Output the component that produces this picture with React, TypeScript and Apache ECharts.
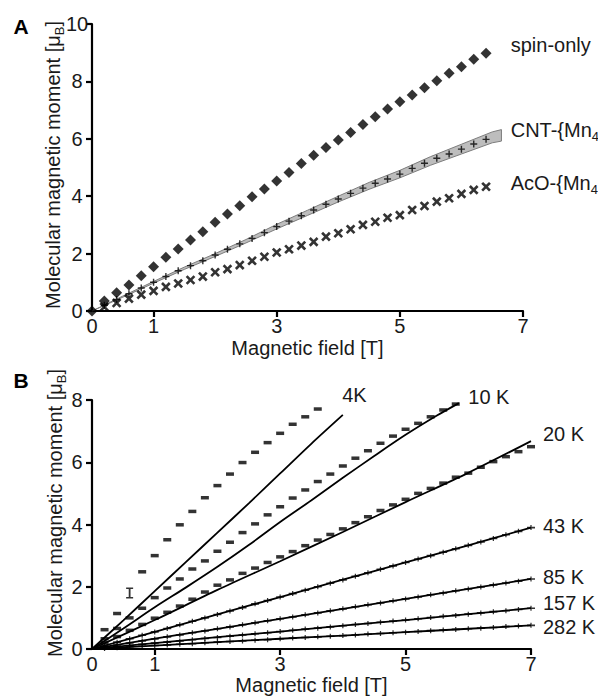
import React, { useEffect, useRef } from "react";
import * as echarts from "echarts";

const FONT = '"Liberation Sans", Arial, Helvetica, sans-serif';
const INK = "#1a1a1a";

// ---------- Panel A ----------
const FIELD_A = [0, 0.2, 0.4, 0.6, 0.8, 1.0, 1.2, 1.4, 1.6, 1.8, 2.0, 2.2, 2.4, 2.6, 2.8, 3.0, 3.2, 3.4, 3.6, 3.8, 4.0, 4.2, 4.4, 4.6, 4.8, 5.0, 5.2, 5.4, 5.6, 5.8, 6.0, 6.2, 6.4];
const SPIN_ONLY = [0, 0.35, 0.64, 0.91, 1.23, 1.54, 1.87, 2.16, 2.47, 2.76, 3.09, 3.38, 3.67, 3.98, 4.25, 4.53, 4.83, 5.14, 5.43, 5.7, 5.96, 6.22, 6.5, 6.77, 7.04, 7.29, 7.53, 7.78, 8.02, 8.28, 8.51, 8.77, 8.98];
// CNT and AcO start at 0.2 T
const CNT = [0.2, 0.4, 0.6, 0.8, 1.0, 1.2, 1.4, 1.58, 1.75, 1.95, 2.15, 2.34, 2.53, 2.73, 2.94, 3.13, 3.32, 3.52, 3.72, 3.9, 4.1, 4.28, 4.45, 4.6, 4.77, 4.97, 5.15, 5.32, 5.47, 5.64, 5.82, 5.98];
const ACO = [0.14, 0.28, 0.43, 0.57, 0.7, 0.84, 0.96, 1.08, 1.2, 1.35, 1.46, 1.6, 1.75, 1.89, 2.04, 2.15, 2.28, 2.41, 2.59, 2.71, 2.85, 3.0, 3.11, 3.25, 3.34, 3.52, 3.66, 3.81, 3.93, 4.08, 4.22, 4.33];
const BAND_FIELD = [0, 0.5, 1, 1.5, 2, 2.5, 3, 3.5, 4, 4.5, 5, 5.5, 6, 6.5, 6.65];
const BAND_LOW = [0, 0.48, 0.97, 1.45, 1.9, 2.37, 2.86, 3.33, 3.8, 4.24, 4.64, 5.08, 5.47, 5.86, 5.92];
const BAND_HIGH = [0, 0.52, 1.03, 1.53, 2.0, 2.49, 3.02, 3.51, 4.0, 4.48, 4.9, 5.38, 5.81, 6.24, 6.32];

// ---------- Panel B ----------
const FIELD_B = [0.2, 0.4, 0.6, 0.8, 1.0, 1.2, 1.4, 1.6, 1.8, 2.0, 2.2, 2.4, 2.6, 2.8, 3.0, 3.2, 3.4, 3.6, 3.8, 4.0, 4.2, 4.4, 4.6, 4.8, 5.0, 5.2, 5.4, 5.6, 5.8, 6.0, 6.2, 6.4, 6.6, 6.8, 7.0];
const DATA_4K = [0.62, 1.14, 1.8, 2.48, 3.0, 3.51, 3.99, 4.42, 4.86, 5.25, 5.62, 5.99, 6.32, 6.63, 6.93, 7.22, 7.46, 7.71];
const DATA_10K = [0.33, 0.66, 1.0, 1.31, 1.65, 1.96, 2.25, 2.57, 2.83, 3.14, 3.43, 3.74, 4.02, 4.31, 4.57, 4.85, 5.11, 5.38, 5.62, 5.88, 6.13, 6.37, 6.61, 6.84, 7.06, 7.25, 7.46, 7.68, 7.87];
const DATA_20K = [0.2, 0.4, 0.6, 0.79, 0.99, 1.18, 1.38, 1.6, 1.83, 2.05, 2.22, 2.43, 2.6, 2.78, 2.96, 3.13, 3.32, 3.5, 3.68, 3.86, 4.06, 4.25, 4.45, 4.63, 4.81, 5.0, 5.16, 5.33, 5.52, 5.65, 5.84, 6.02, 6.18, 6.34, 6.5];
const DATA_43K = [0.11, 0.22, 0.33, 0.44, 0.55, 0.66, 0.78, 0.89, 1.0, 1.11, 1.22, 1.33, 1.45, 1.56, 1.67, 1.78, 1.89, 2.0, 2.11, 2.22, 2.34, 2.45, 2.56, 2.67, 2.78, 2.89, 3.0, 3.11, 3.22, 3.33, 3.44, 3.55, 3.67, 3.78, 3.9];
const DATA_85K = [0.06, 0.13, 0.19, 0.26, 0.32, 0.39, 0.45, 0.52, 0.58, 0.65, 0.71, 0.78, 0.84, 0.91, 0.97, 1.03, 1.1, 1.16, 1.23, 1.29, 1.36, 1.42, 1.48, 1.55, 1.61, 1.67, 1.74, 1.8, 1.87, 1.93, 1.99, 2.06, 2.12, 2.18, 2.25];
const DATA_157K = [0.04, 0.07, 0.11, 0.15, 0.19, 0.22, 0.26, 0.3, 0.34, 0.37, 0.41, 0.45, 0.49, 0.52, 0.56, 0.6, 0.64, 0.67, 0.71, 0.75, 0.79, 0.82, 0.86, 0.9, 0.93, 0.97, 1.01, 1.05, 1.08, 1.12, 1.16, 1.2, 1.23, 1.27, 1.31];
const DATA_282K = [0.02, 0.04, 0.07, 0.09, 0.11, 0.13, 0.15, 0.17, 0.2, 0.22, 0.24, 0.26, 0.28, 0.3, 0.33, 0.35, 0.37, 0.39, 0.41, 0.43, 0.45, 0.48, 0.5, 0.52, 0.54, 0.56, 0.59, 0.61, 0.63, 0.65, 0.67, 0.69, 0.72, 0.74, 0.76];

const FIT_4K_FIELD = [0, 0.5, 1, 1.5, 2, 2.5, 3, 3.5, 4.0];
const FIT_4K = [0, 0.92, 1.86, 2.8, 3.74, 4.68, 5.64, 6.6, 7.52];
const FIT_10K_FIELD = [0, 0.5, 1, 1.5, 2, 2.5, 3, 3.5, 4, 4.5, 5, 5.5, 5.85];
const FIT_10K = [0, 0.66, 1.34, 1.98, 2.64, 3.34, 4.08, 4.78, 5.5, 6.2, 6.88, 7.5, 7.9];
const FIT_FIELD = [0, 1, 2, 3, 4, 5, 6, 7];
const FIT_20K = [0, 0.93, 1.9, 2.82, 3.76, 4.72, 5.66, 6.68];
const FIT_43K = [0, 0.55, 1.11, 1.67, 2.23, 2.78, 3.33, 3.9];
const FIT_85K = [0, 0.33, 0.65, 0.97, 1.29, 1.61, 1.93, 2.25];
const FIT_157K = [0, 0.19, 0.38, 0.56, 0.75, 0.93, 1.12, 1.31];
const FIT_282K = [0, 0.11, 0.22, 0.33, 0.43, 0.54, 0.65, 0.76];

const X_LABELS = [0, 1, 3, 5, 7];
const X_TICKS = [1, 3, 5, 7];

const zip = (xs: number[], ys: number[]) => ys.map((y, i) => [xs[i], y]);

const PLUS = "path://M3.8,0h2.4v3.8h3.8v2.4h-3.8v3.8h-2.4v-3.8h-3.8v-2.4h3.8z";
const THIN_PLUS = "path://M4,0h2v4h4v2h-4v4h-2v-4h-4v-2h4z";
const ERR_DASH = "path://M0,2.2h9v2h-9z M3.8,0h1.4v6.4h-1.4z";
const IBAR = "path://M0,0h7v1.6h-2.6v8.8h2.6v1.6h-7v-1.6h2.6v-8.8h-2.6z";

const richBase = (size: number) => ({
  t: { fontSize: size, fontFamily: FONT, color: INK, fill: INK, lineHeight: size, verticalAlign: "top" },
  s: { fontSize: Math.round(size * 0.65), fontFamily: FONT, color: INK, fill: INK, lineHeight: Math.round(size * 0.65), padding: [Math.round(size * 0.5), 0, 0, 0], verticalAlign: "top" },
});

function axisX(gridIndex: number, gap: number) {
  return {
    gridIndex,
    type: "value",
    min: 0,
    max: 7,
    interval: 1,
    axisLine: { onZero: false, lineStyle: { color: "#000", width: 2.2 } },
    axisTick: { customValues: X_TICKS, length: 6, lineStyle: { color: "#000", width: 2.2 } },
    axisLabel: { customValues: X_LABELS, fontSize: 20, color: INK, fontFamily: FONT, margin: 5 },
    splitLine: { show: false },
    name: "Magnetic field [T]",
    nameLocation: "middle",
    nameGap: gap,
    nameTextStyle: { fontSize: 20, color: INK, fontFamily: FONT },
  };
}

function axisY(gridIndex: number, max: number) {
  return {
    gridIndex,
    type: "value",
    min: 0,
    max,
    interval: 2,
    axisLine: { show: true, onZero: false, lineStyle: { color: "#000", width: 2.2 } },
    axisTick: { show: true, length: 6, lineStyle: { color: "#000", width: 2.2 } },
    axisLabel: { fontSize: 20, color: INK, fontFamily: FONT, margin: 15, align: "center" },
    splitLine: { show: false },
  };
}

export default function App() {
  const ref = useRef<HTMLDivElement>(null);
  useEffect(() => {
    if (!ref.current) return;
    const chart = echarts.init(ref.current, null, { renderer: "svg" });

    const fitLine = (field: number[], vals: number[]) => ({
      type: "line",
      xAxisIndex: 1,
      yAxisIndex: 1,
      data: zip(field, vals),
      showSymbol: false,
      symbol: "none",
      smooth: 0.3,
      lineStyle: { color: "#000", width: 1.8 },
      z: 2,
      silent: true,
    });
    const dataB = (vals: number[], symbol: string, size: number[]) => ({
      type: "scatter",
      xAxisIndex: 1,
      yAxisIndex: 1,
      data: zip(FIELD_B, vals),
      symbol,
      symbolSize: size,
      itemStyle: { color: "#000" },
      z: 3,
      silent: true,
    });

    const data4K = zip(FIELD_B, DATA_4K).map((p, i) =>
      i === 2 ? { value: p, symbol: IBAR, symbolSize: [7, 11] } : p
    );

    const option: any = {
      animation: false,
      textStyle: { fontFamily: FONT },
      grid: [
        { left: 92, top: 24, width: 431, height: 287 },
        { left: 92, top: 400, width: 439, height: 249 },
      ],
      xAxis: [axisX(0, 27), axisX(1, 25)],
      yAxis: [axisY(0, 10), axisY(1, 8)],
      series: [
        {
          type: "custom",
          xAxisIndex: 0,
          yAxisIndex: 0,
          data: [[0, 0]],
          silent: true,
          z: 1,
          renderItem: (params: any, api: any) => {
            if (params.dataIndex > 0) return null;
            const hi = BAND_FIELD.map((x, i) => api.coord([x, BAND_HIGH[i]]));
            const lo = BAND_FIELD.map((x, i) => api.coord([x, BAND_LOW[i]])).reverse();
            return {
              type: "polygon",
              shape: { points: hi.concat(lo) },
              style: { fill: "#bdbdbd", stroke: "#7d7d7d", lineWidth: 1 },
            };
          },
        },
        {
          type: "scatter",
          xAxisIndex: 0,
          yAxisIndex: 0,
          data: zip(FIELD_A, SPIN_ONLY),
          symbol: "diamond",
          symbolSize: 11,
          itemStyle: { color: "#000" },
          z: 3,
          silent: true,
        },
        {
          type: "scatter",
          xAxisIndex: 0,
          yAxisIndex: 0,
          data: zip(FIELD_A.slice(1), CNT),
          symbol: THIN_PLUS,
          symbolSize: 7,
          itemStyle: { color: "#000" },
          z: 3,
          silent: true,
        },
        {
          type: "scatter",
          xAxisIndex: 0,
          yAxisIndex: 0,
          data: zip(FIELD_A.slice(1), ACO),
          symbol: PLUS,
          symbolSize: 11,
          symbolRotate: 45,
          itemStyle: { color: "#000" },
          z: 3,
          silent: true,
        },
        fitLine(FIT_4K_FIELD, FIT_4K),
        fitLine(FIT_10K_FIELD, FIT_10K),
        fitLine(FIT_FIELD, FIT_20K),
        fitLine(FIT_FIELD, FIT_43K),
        fitLine(FIT_FIELD, FIT_85K),
        fitLine(FIT_FIELD, FIT_157K),
        fitLine(FIT_FIELD, FIT_282K),
        { ...dataB(DATA_4K, "rect", [8, 3.5]), data: data4K },
        dataB(DATA_10K, "rect", [8, 3.5]),
        dataB(DATA_20K, "rect", [8, 3.5]),
        dataB(DATA_43K, ERR_DASH, [8, 5]),
        dataB(DATA_85K, ERR_DASH, [8, 5]),
        dataB(DATA_157K, ERR_DASH, [8, 5]),
        dataB(DATA_282K, ERR_DASH, [8, 5]),
      ],
    };
    chart.setOption(option);

    const px = (g: number, x: number, y: number) => chart.convertToPixel({ gridIndex: g } as any, [x, y]) as number[];
    const labelsA = [
      { text: "{t|spin-only}", at: [6.8, 9.27] },
      { text: "{t|CNT-{Mn}{s|4}", at: [6.8, 6.3] },
      { text: "{t|AcO-{Mn}{s|4}", at: [6.8, 4.46] },
    ];
    const labelsB = [
      { text: "4K", at: [3.99, 8.16] },
      { text: "10 K", at: [6.0, 8.09] },
      { text: "20 K", at: [7.19, 6.91] },
      { text: "43 K", at: [7.19, 3.96] },
      { text: "85 K", at: [7.19, 2.32] },
      { text: "157 K", at: [7.19, 1.49] },
      { text: "282 K", at: [7.19, 0.72] },
    ];
    const rich = richBase(20);
    const graphic: any[] = [];
    labelsA.forEach((l) => {
      const [x, y] = px(0, l.at[0], l.at[1]);
      graphic.push({
        type: "text",
        x,
        y,
        silent: true,
        style: { text: l.text, rich, fill: INK, fontSize: 20, fontFamily: FONT, align: "left", verticalAlign: "middle" },
      });
    });
    labelsB.forEach((l) => {
      const [x, y] = px(1, l.at[0], l.at[1]);
      graphic.push({
        type: "text",
        x,
        y,
        silent: true,
        style: { text: l.text, fill: INK, fontSize: 20, fontFamily: FONT, align: "left", verticalAlign: "middle" },
      });
    });
    const yTitle = "{t|Molecular magnetic moment [μ}{s|B}{t|]}";
    graphic.push(
      { type: "text", x: 21, y: 26, silent: true, style: { text: "A", fill: "#000", fontSize: 21, fontWeight: "bold", fontFamily: FONT, align: "center", verticalAlign: "middle" } },
      { type: "text", x: 21, y: 380, silent: true, style: { text: "B", fill: "#000", fontSize: 21, fontWeight: "bold", fontFamily: FONT, align: "center", verticalAlign: "middle" } },
      {
        type: "text",
        x: 53,
        y: 165,
        rotation: Math.PI / 2,
        silent: true,
        style: { text: yTitle, rich, fill: INK, fontSize: 20, fontFamily: FONT, align: "center", verticalAlign: "middle" },
      },
      {
        type: "text",
        x: 55,
        y: 513,
        rotation: Math.PI / 2,
        silent: true,
        style: { text: yTitle, rich, fill: INK, fontSize: 20, fontFamily: FONT, align: "center", verticalAlign: "middle" },
      }
    );
    chart.setOption({ graphic });

    return () => chart.dispose();
  }, []);

  return (
    <div
      ref={ref}
      style={{ position: "absolute", left: 0, top: 0, width: 598, height: 699, background: "#fff" }}
    />
  );
}
